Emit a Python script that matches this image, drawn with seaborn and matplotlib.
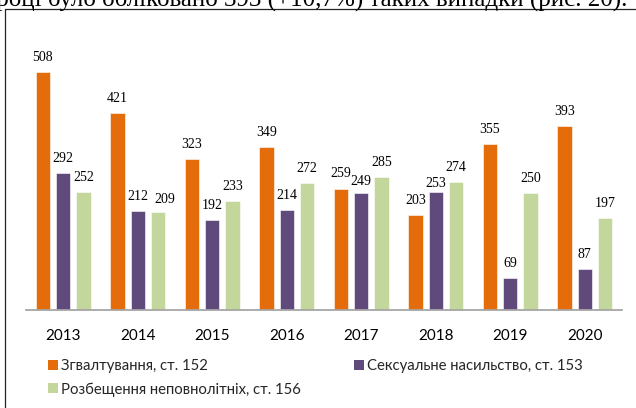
import pandas as pd
import matplotlib
matplotlib.use("Agg")
import matplotlib.pyplot as plt
import seaborn as sns
from matplotlib.patches import Patch
from matplotlib.lines import Line2D

# Chart data
years = ["2013", "2014", "2015", "2016", "2017", "2018", "2019", "2020"]
rape = [508, 421, 323, 349, 259, 203, 355, 393]
sexual_violence = [292, 212, 192, 214, 249, 253, 69, 87]
corruption_minors = [252, 209, 233, 272, 285, 274, 250, 197]
series_names = ["Згвалтування, ст. 152",
                "Сексуальне насильство, ст. 153",
                "Розбещення неповнолітніх, ст. 156"]
colors = ["#E46C0A", "#604A7B", "#C3D69B"]
caption = "У 2020 році було обліковано 393 (+10,7%) таких випадки (рис. 20)."

# long-form table for seaborn
df = pd.DataFrame({
    "year": years * 3,
    "value": rape + sexual_violence + corruption_minors,
    "series": [s for s in series_names for _ in years],
})

sns.set_style("white")
plt.rcParams["font.family"] = ["Lato", "DejaVu Sans"]

W, H = 636, 408
fig = plt.figure(figsize=(W / 100, H / 100), dpi=100)
ax = fig.add_axes([26 / W, 1 - 310 / H, 596 / W, 281 / H])

sns.barplot(data=df, x="year", y="value", hue="series", hue_order=series_names,
            palette=colors, width=0.82, gap=0.29, ax=ax, legend=False,
            edgecolor="white", linewidth=0.4, saturation=1)

ax.set_xlim(-0.5, 7.5)
ax.set_ylim(0, 600)
ax.set_xlabel("")
ax.set_ylabel("")
ax.set_yticks([])
ax.tick_params(axis="x", length=0, pad=13.5, labelsize=11, labelcolor="#000000")
for side in ["top", "right", "left"]:
    ax.spines[side].set_visible(False)
ax.spines["bottom"].set_color("#A6A6A6")
ax.spines["bottom"].set_linewidth(1.3)

# value labels, small hand nudges (pixels) where the original moved them
nudge = {(2, 1): (7, -2), (0, 4): (0, 1), (1, 4): (0, -3), (1, 5): (0, -6)}
all_values = [rape, sexual_violence, corruption_minors]
for si, cont in enumerate(ax.containers):
    for bi, bar in enumerate(cont):
        dx, dy = nudge.get((si, bi), (0, 0))
        ax.annotate(str(all_values[si][bi]),
                    (bar.get_x() + bar.get_width() / 2, bar.get_height()),
                    xytext=(dx, 11 + dy), textcoords="offset pixels",
                    ha="center", va="baseline", fontsize=10,
                    family="Liberation Serif", color="#000000")

# legend: column-major, so order the handles to get two entries on row one
handles = [Patch(facecolor=c, edgecolor="none") for c in colors]
order = [0, 2, 1]
fig.legend([handles[i] for i in order], [series_names[i] for i in order],
           ncol=2, loc="upper left", bbox_to_anchor=(48 / W, 1 - 359 / H),
           frameon=False, fontsize=10.7, handlelength=0.67, handleheight=0.67,
           handletextpad=0.22, labelspacing=0.62, columnspacing=3.55,
           borderpad=0, borderaxespad=0)

# frame of the figure box and the cut-off line of text above it
fig.add_artist(Line2D([5 / W, 5 / W], [0, 1 - 9 / H], transform=fig.transFigure,
                      color="#222222", lw=0.9))
fig.add_artist(Line2D([5 / W, 1], [1 - 9 / H, 1 - 9 / H], transform=fig.transFigure,
                      color="#222222", lw=0.9))
fig.text(627 / W, 1 - 5.7 / H, caption, ha="right", va="baseline",
         fontsize=18, family="Liberation Serif", color="#000000")

fig.savefig("out.png", dpi=100)
